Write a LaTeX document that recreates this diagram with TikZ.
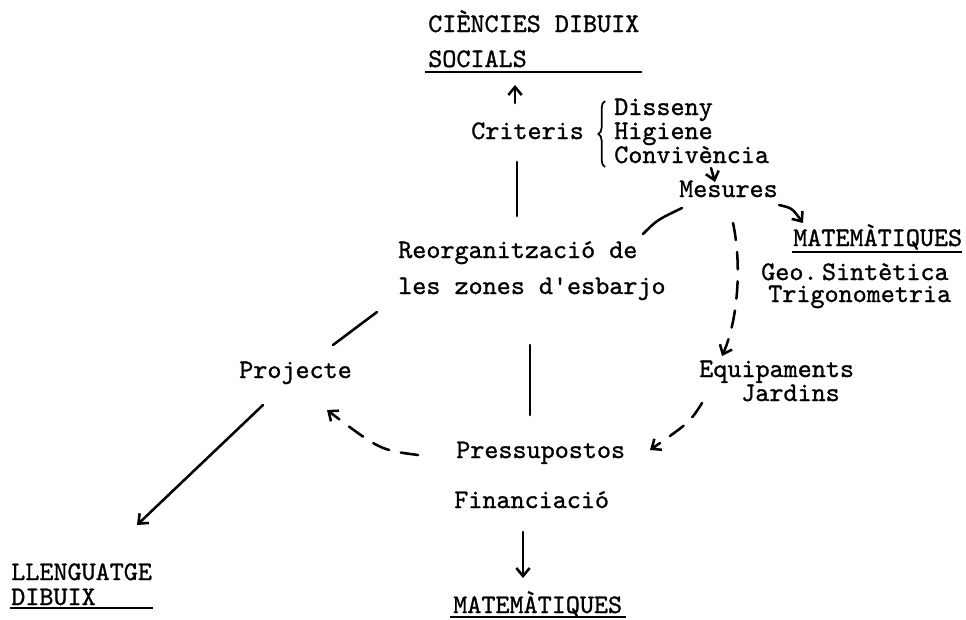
\documentclass[tikz,border=0pt]{standalone}
\usepackage{fontspec}
\newfontfamily\typewriter[FakeBold=1]{lmmono10-regular.otf}
\usetikzlibrary{arrows.meta,decorations.pathreplacing}

\tikzset{
  lbl/.style={anchor=base west, inner sep=0pt, font=\typewriter\fontsize{20.1}{24}\selectfont},
  stroke/.style={line width=1.9pt, line cap=round},
  tip/.style={-{Straight Barb[length=6pt,width=10pt,line width=1.9pt]}},
  arr/.style={stroke, tip},
  dsh/.style={stroke, tip, dash pattern=on 13pt off 9pt},
  uline/.style={line width=0.9pt}
}

\begin{document}
\begin{tikzpicture}[x=0.75pt,y=0.75pt,yscale=-1]
        \useasboundingbox (0,0) rectangle (966,619);

        % Text Node
        \draw (428,32) node [lbl] (ciencies) {CIÈNCIES DIBUIX};
        % Text Node
        \draw (428,67) node [lbl] (socials) {SOCIALS};
        % Text Node
        \draw (471,139) node [lbl] (criteris) {Criteris};
        % Text Node
        \draw (614,115) node [lbl] (disseny) {Disseny};
        % Text Node
        \draw (614,139) node [lbl] (higiene) {Higiene};
        % Text Node
        \draw (614,163) node [lbl] (convivencia) {Convivència};
        % Text Node
        \draw (679,197) node [lbl] (mesures) {Mesures};
        % Text Node
        \draw (793,246) node [lbl] (matdreta) {MATEMÀTIQUES};
        % Text Node
        \draw (761,280) node [lbl] (geo) {Geo.\,Sintètica};
        % Text Node
        \draw (768,302) node [lbl] (trigo) {Trigonometria};
        % Text Node
        \draw (398,258) node [lbl] (reorg) {Reorganització de};
        % Text Node
        \draw (398,294) node [lbl] (zones) {les zones d'esbarjo};
        % Text Node
        \draw (239,378) node [lbl] (projecte) {Projecte};
        % Text Node
        \draw (699,377) node [lbl] (equip) {Equipaments};
        % Text Node
        \draw (741,401) node [lbl] (jardins) {Jardins};
        % Text Node
        \draw (456,458) node [lbl] (pressup) {Pressupostos};
        % Text Node
        \draw (454,508) node [lbl] (financ) {Financiació};
        % Text Node
        \draw (453,613) node [lbl] (matbaix) {MATEMÀTIQUES};
        % Text Node
        \draw (11,580) node [lbl] (llenguatge) {LLENGUATGE};
        % Text Node
        \draw (11,605) node [lbl] (dibuix) {DIBUIX};

        % connector ends
        \coordinate (critA) at (515,103);  \coordinate (critB) at (515,85);
        \coordinate (critC) at (517,162);  \coordinate (critD) at (517,216);
        \coordinate (zonA) at (530,345);   \coordinate (zonB) at (530,415);
        \coordinate (convA) at (711,168);  \coordinate (convB) at (715,182);
        \coordinate (mesA) at (779,205);   \coordinate (mesB) at (803,223);
        \coordinate (reoA) at (643,234);   \coordinate (reoB) at (682,208);
        \coordinate (mesC) at (733,223);   \coordinate (eqA) at (722,356);
        \coordinate (eqB) at (702,403);    \coordinate (preA) at (650,450);
        \coordinate (preB) at (418,455);   \coordinate (proA) at (327,410);
        \coordinate (proB) at (333,345);   \coordinate (reoC) at (377,312);
        \coordinate (proC) at (263,405);   \coordinate (llA) at (137,525);
        \coordinate (finA) at (523,532);   \coordinate (matA) at (523,578);

        %Underlines
        \draw [uline] (425,72) -- (642,72);
        \draw [uline] (792,252) -- (962,252);
        \draw [uline] (450,617) -- (626,617);
        \draw [uline] (10,608) -- (153,608);

        %Brace
        \draw [line width=1.3pt, decorate, decoration={brace, mirror, amplitude=5pt}] (605,101) -- (605,167);

        %Straight Lines
        \draw [arr] (critA) -- (critB);
        \draw [stroke] (critC) -- (critD);
        \draw [stroke] (zonA) -- (zonB);
        \draw [arr] (convA) -- (convB);
        \draw [stroke] (proB) -- (reoC);
        \draw [arr] (proC) -- (llA);
        \draw [arr] (finA) -- (matA);
        %Curve Lines
        \draw [arr] (mesA) .. controls (792,208) .. (mesB);
        \draw [stroke] (reoA) .. controls (657,220) .. (reoB);
        \draw [dsh] (mesC) .. controls (742,265) and (738,320) .. (eqA);
        \draw [dsh] (eqB) .. controls (690,422) .. (preA);
        \draw [dsh] (preB) .. controls (380,450) .. (proA);

\end{tikzpicture}
\end{document}
